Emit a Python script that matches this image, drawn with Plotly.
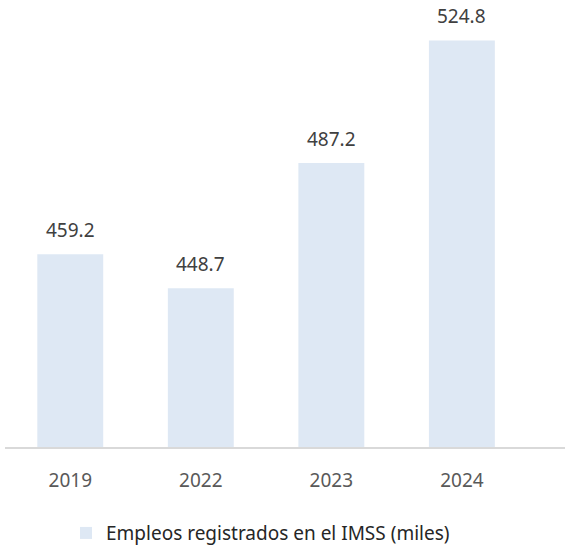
import plotly.graph_objects as go

# Empleos registrados en el IMSS (miles)
years = ["2019", "2022", "2023", "2024"]
empleos = [459.2, 448.7, 487.2, 524.8]
series_name = "Empleos registrados en el IMSS (miles)"

BAR_COLOR = "#DEE8F4"
FONT = "Noto Sans"

fig = go.Figure()
fig.add_trace(go.Bar(
    x=years,
    y=empleos,
    name=series_name,
    marker=dict(color=BAR_COLOR, line=dict(width=0)),
    hoverinfo="x+y",
))

# value labels above each bar (x given as category index)
for i, v in enumerate(empleos):
    fig.add_annotation(
        x=i, y=v, xref="x", yref="y", text=f"{v:.1f}", showarrow=False,
        yanchor="bottom", yshift=9,
        font=dict(family=FONT, size=19, color="#404040"),
    )

fig.update_layout(
    width=567, height=549,
    margin=dict(l=5, r=2, t=0, b=102, autoexpand=False),
    paper_bgcolor="white", plot_bgcolor="white",
    bargap=0.495,
    showlegend=True,
    legend=dict(
        orientation="h",
        xref="container", x=0.1164, xanchor="left",
        yref="container", y=0.029, yanchor="middle",
        font=dict(family=FONT, size=19, color="#262626"),
        itemwidth=30,
    ),
    xaxis=dict(
        type="category", range=[-0.5, 3.79],
        showline=True, linecolor="#D9D9D9", linewidth=2,
        ticks="", showgrid=False, zeroline=False,
        tickfont=dict(family=FONT, size=19, color="#595959"),
        ticklabelstandoff=15,
    ),
    yaxis=dict(
        range=[400, 537.2], visible=False, showgrid=False, zeroline=False,
    ),
)

fig.write_html("out.html")
